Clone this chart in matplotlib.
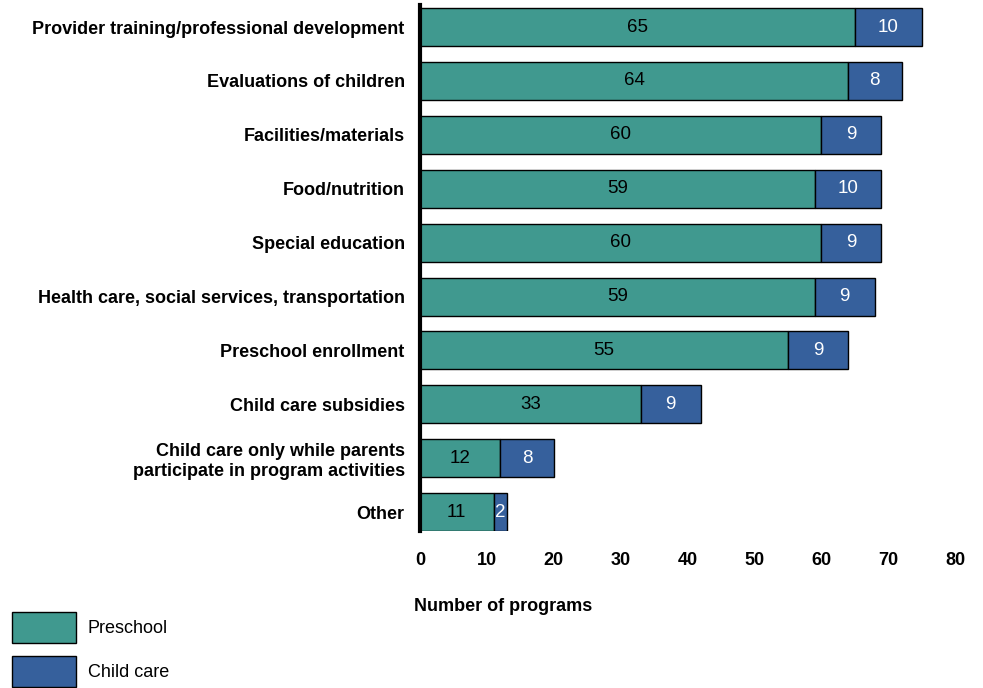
import matplotlib.pyplot as plt
import numpy as np

plt.rcParams['font.family'] = ['Liberation Sans', 'DejaVu Sans']

# data, top to bottom
categories = ['Provider training/professional development',
              'Evaluations of children',
              'Facilities/materials',
              'Food/nutrition',
              'Special education',
              'Health care, social services, transportation',
              'Preschool enrollment',
              'Child care subsidies',
              'Child care only while parents\nparticipate in program activities',
              'Other']
preschool = [65, 64, 60, 59, 60, 59, 55, 33, 12, 11]
child_care = [10, 8, 9, 10, 9, 9, 9, 9, 8, 2]
xticks = [0, 10, 20, 30, 40, 50, 60, 70, 80]

teal = '#40998f'
blue = '#36609c'

fig = plt.figure(figsize=(9.83, 6.88), dpi=100)
ax = fig.add_axes([420/983, 1-531/688, 535/983, 526/688])

y = np.arange(len(categories))
h = 0.705
b1 = ax.barh(y, preschool, height=h, color=teal, edgecolor='black', linewidth=1, label='Preschool')
b2 = ax.barh(y, child_care, left=preschool, height=h, color=blue, edgecolor='black', linewidth=1, label='Child care')

t1 = ax.bar_label(b1, labels=[str(v) for v in preschool], label_type='center', fontsize=13.5, color='black')
t2 = ax.bar_label(b2, labels=[str(v) for v in child_care], label_type='center', fontsize=13.5, color='white')
for t in t1 + t2:
    t.set_va('center')

ax.set_xlim(0, 80)
ax.set_ylim(9.35, -0.41)
ax.set_xticks(xticks)
ax.set_xticklabels([str(t) for t in xticks], fontsize=13, fontweight='bold')
ax.set_yticks(y)
ax.set_yticklabels(categories, fontsize=13, fontweight='bold', multialignment='right')
ax.tick_params(axis='x', length=0, pad=15)
ax.tick_params(axis='y', length=0, pad=11)
for s in ['top', 'right', 'bottom']:
    ax.spines[s].set_visible(False)
ax.spines['left'].set_linewidth(3)

ax.set_xlabel('Number of programs', fontsize=13, fontweight='bold')
ax.xaxis.set_label_coords(83/535, -67/526)
ax.xaxis.label.set_horizontalalignment('center')

fig.legend(handles=[b1, b2], loc='upper left', bbox_to_anchor=(12/983, 1-612/688),
           frameon=False, fontsize=13, handlelength=3.54, handleheight=2.26,
           handletextpad=0.66, labelspacing=0.72, borderpad=0, borderaxespad=0)

plt.savefig('out.png', dpi=100)
